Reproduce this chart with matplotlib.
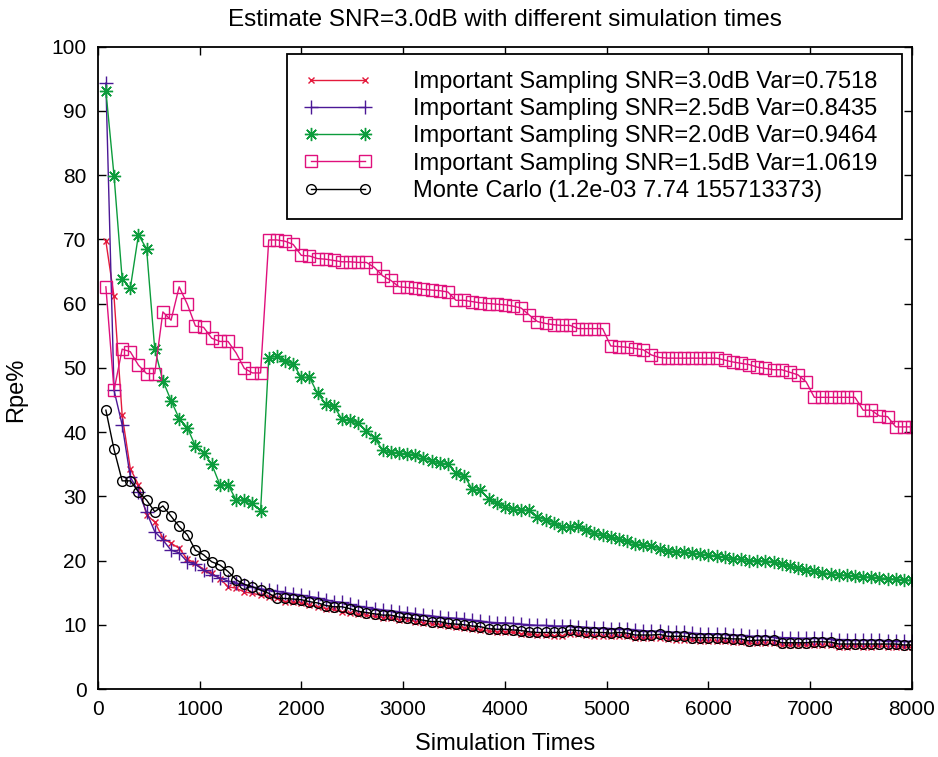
import matplotlib
matplotlib.use('Agg')
import matplotlib.pyplot as plt

plt.rcParams['font.family'] = ['Liberation Sans', 'DejaVu Sans']

# simulation counts (every 80 runs)
sim_times = list(range(80, 8001, 80))

snr30 = [69.7, 61.1, 42.6, 34.3, 31.8, 27.1, 26.0, 23.5, 22.7, 21.9,
         20.2, 19.6, 18.6, 18.0, 17.2, 15.9, 15.7, 15.1, 14.9, 14.6,
         14.4, 14.1, 13.6, 13.5, 13.4, 13.1, 12.8, 12.5, 12.4, 12.0,
         11.8, 11.6, 11.5, 11.3, 11.1, 11.0, 10.8, 10.8, 10.5, 10.3,
         10.1, 10.0, 9.8, 9.6, 9.5, 9.3, 9.2, 9.0, 8.9, 8.9,
         8.8, 8.6, 8.5, 8.4, 8.4, 8.3, 8.3, 8.6, 8.5, 8.4,
         8.3, 8.2, 8.2, 8.3, 8.2, 8.0, 7.9, 7.9, 8.0, 7.8,
         7.7, 7.7, 7.6, 7.5, 7.5, 7.5, 7.4, 7.3, 7.3, 7.1,
         7.1, 7.2, 7.1, 6.8, 6.8, 6.9, 6.8, 6.9, 6.9, 6.8,
         6.6, 6.6, 6.7, 6.6, 6.6, 6.7, 6.6, 6.6, 6.5, 6.5]

snr25 = [94.3, 46.5, 41.1, 33.0, 30.7, 27.5, 24.5, 23.2, 21.6, 21.2,
         19.8, 19.4, 18.5, 17.8, 17.3, 16.8, 16.5, 16.2, 15.9, 15.6,
         15.4, 15.2, 15.0, 14.8, 14.6, 14.4, 14.2, 13.9, 13.6, 13.5,
         13.2, 12.9, 12.7, 12.5, 12.3, 12.2, 12.0, 11.9, 11.7, 11.5,
         11.4, 11.2, 11.1, 11.0, 10.9, 10.7, 10.6, 10.4, 10.3, 10.3,
         10.2, 10.1, 10.0, 9.9, 9.9, 9.8, 9.8, 9.8, 9.7, 9.6,
         9.5, 9.5, 9.4, 9.4, 9.3, 9.2, 9.1, 9.0, 9.0, 8.9,
         8.8, 8.8, 8.7, 8.6, 8.6, 8.6, 8.5, 8.4, 8.4, 8.2,
         8.2, 8.2, 8.1, 8.0, 8.0, 7.9, 7.9, 7.9, 7.9, 7.8,
         7.7, 7.7, 7.6, 7.6, 7.6, 7.6, 7.5, 7.5, 7.4, 7.4]

snr20 = [93.1, 79.9, 63.8, 62.4, 70.7, 68.5, 52.9, 48.0, 44.9, 42.1,
         40.7, 37.8, 36.8, 35.0, 31.8, 31.8, 29.4, 29.4, 29.0, 27.7,
         51.6, 51.8, 51.0, 50.6, 48.5, 48.5, 46.0, 44.4, 44.0, 42.0,
         41.8, 41.4, 40.2, 39.0, 37.2, 36.9, 36.7, 36.6, 36.5, 36.0,
         35.5, 35.2, 35.0, 33.6, 33.2, 31.1, 31.0, 29.6, 28.9, 28.4,
         28.0, 27.8, 27.9, 26.8, 26.3, 25.9, 25.2, 25.2, 25.3, 24.7,
         24.3, 24.0, 23.6, 23.3, 23.0, 22.6, 22.4, 22.2, 21.8, 21.5,
         21.4, 21.3, 21.1, 21.0, 20.9, 20.7, 20.5, 20.3, 20.2, 20.0,
         20.0, 19.9, 19.8, 19.4, 19.1, 18.8, 18.5, 18.3, 18.1, 17.9,
         17.8, 17.7, 17.6, 17.5, 17.4, 17.3, 17.2, 17.1, 17.0, 16.9]

snr15 = [62.6, 46.5, 52.9, 52.5, 50.4, 49.1, 49.1, 58.7, 57.4, 62.6,
         59.9, 56.5, 56.3, 54.6, 54.1, 54.1, 52.3, 49.9, 49.2, 49.2,
         69.9, 69.9, 69.7, 69.2, 67.5, 67.4, 67.0, 66.9, 66.7, 66.5,
         66.5, 66.4, 66.4, 65.6, 64.3, 63.6, 62.6, 62.5, 62.4, 62.2,
         62.1, 62.0, 61.8, 60.5, 60.5, 60.3, 60.1, 60.0, 59.9, 59.8,
         59.6, 59.3, 58.2, 57.2, 56.9, 56.7, 56.6, 56.6, 56.1, 56.1,
         56.1, 56.1, 53.4, 53.3, 53.2, 53.0, 52.8, 52.0, 51.6, 51.5,
         51.5, 51.5, 51.5, 51.5, 51.5, 51.5, 51.2, 50.9, 50.7, 50.5,
         50.1, 49.9, 49.7, 49.7, 49.3, 48.9, 47.8, 45.4, 45.4, 45.4,
         45.4, 45.4, 45.4, 43.4, 43.4, 42.5, 42.4, 40.8, 40.8, 40.8]

monte_carlo = [43.4, 37.3, 32.4, 32.4, 30.7, 29.4, 27.6, 28.5, 26.9, 25.3,
               24.0, 21.6, 20.9, 19.8, 19.3, 18.3, 17.0, 16.3, 15.9, 15.4,
               14.9, 14.1, 14.1, 14.0, 13.9, 13.6, 13.4, 13.0, 12.8, 12.8,
               12.5, 12.1, 11.9, 11.7, 11.5, 11.5, 11.2, 11.1, 10.9, 10.7,
               10.5, 10.5, 10.2, 10.1, 10.0, 9.8, 9.7, 9.4, 9.3, 9.3,
               9.2, 9.1, 8.9, 8.8, 8.8, 8.8, 8.8, 9.2, 9.1, 8.9,
               8.8, 8.8, 8.7, 8.8, 8.7, 8.4, 8.4, 8.4, 8.5, 8.2,
               8.2, 8.2, 8.0, 8.0, 8.0, 8.0, 7.9, 7.8, 7.8, 7.5,
               7.6, 7.6, 7.6, 7.2, 7.2, 7.2, 7.2, 7.35, 7.35, 7.3,
               7.0, 7.0, 7.0, 7.0, 7.0, 7.0, 7.0, 7.0, 6.85, 6.85]

labels = ['Important Sampling SNR=3.0dB Var=0.7518',
          'Important Sampling SNR=2.5dB Var=0.8435',
          'Important Sampling SNR=2.0dB Var=0.9464',
          'Important Sampling SNR=1.5dB Var=1.0619',
          'Monte Carlo (1.2e-03 7.74 155713373)']

fig = plt.figure(figsize=(9.38, 7.57), dpi=100)
ax = fig.add_axes([0.1042, 0.0898, 0.8681, 0.8487])

ax.plot(sim_times, snr30, color='#e41a3c', lw=1.0, marker='x', ms=5, mew=1.0, label=labels[0])
ax.plot(sim_times, snr25, color='#4b1896', lw=1.0, marker='+', ms=9.5, mew=1.0, label=labels[1])
ax.plot(sim_times, snr20, color='#0c9c3c', lw=1.0, marker=(8, 2, 0), ms=9.5, mew=1.0, label=labels[2])
ax.plot(sim_times, snr15, color='#e0107c', lw=1.0, marker='s', ms=8.5, mew=1.0, mfc='none', label=labels[3])
ax.plot(sim_times, monte_carlo, color='black', lw=1.0, marker='o', ms=7, mew=1.0, mfc='none', label=labels[4])

ax.set_xlim(0, 8000)
ax.set_ylim(0, 100)
ax.set_xticks(range(0, 8001, 1000))
ax.set_yticks(range(0, 101, 10))
ax.tick_params(direction='in', length=6, width=1.0, top=True, right=True, labelsize=15, pad=8)
for s in ax.spines.values():
    s.set_linewidth(1.3)

ax.set_title('Estimate SNR=3.0dB with different simulation times', fontsize=17.5, pad=15)
ax.set_xlabel('Simulation Times', fontsize=17, labelpad=10)
ax.set_ylabel('Rpe%', fontsize=17)
ax.yaxis.set_label_coords(-0.087, 0.465)

leg = ax.legend(loc='upper left', bbox_to_anchor=(0.2325, 0.7346, 0.7555, 0.2537), mode='expand',
                fontsize=17, numpoints=2, handlelength=2.9, handletextpad=1.7, labelspacing=0.22,
                borderpad=0.72, borderaxespad=0, fancybox=False, framealpha=1, edgecolor='black')
leg.get_frame().set_linewidth(1.3)

fig.savefig('out.png', dpi=100)
